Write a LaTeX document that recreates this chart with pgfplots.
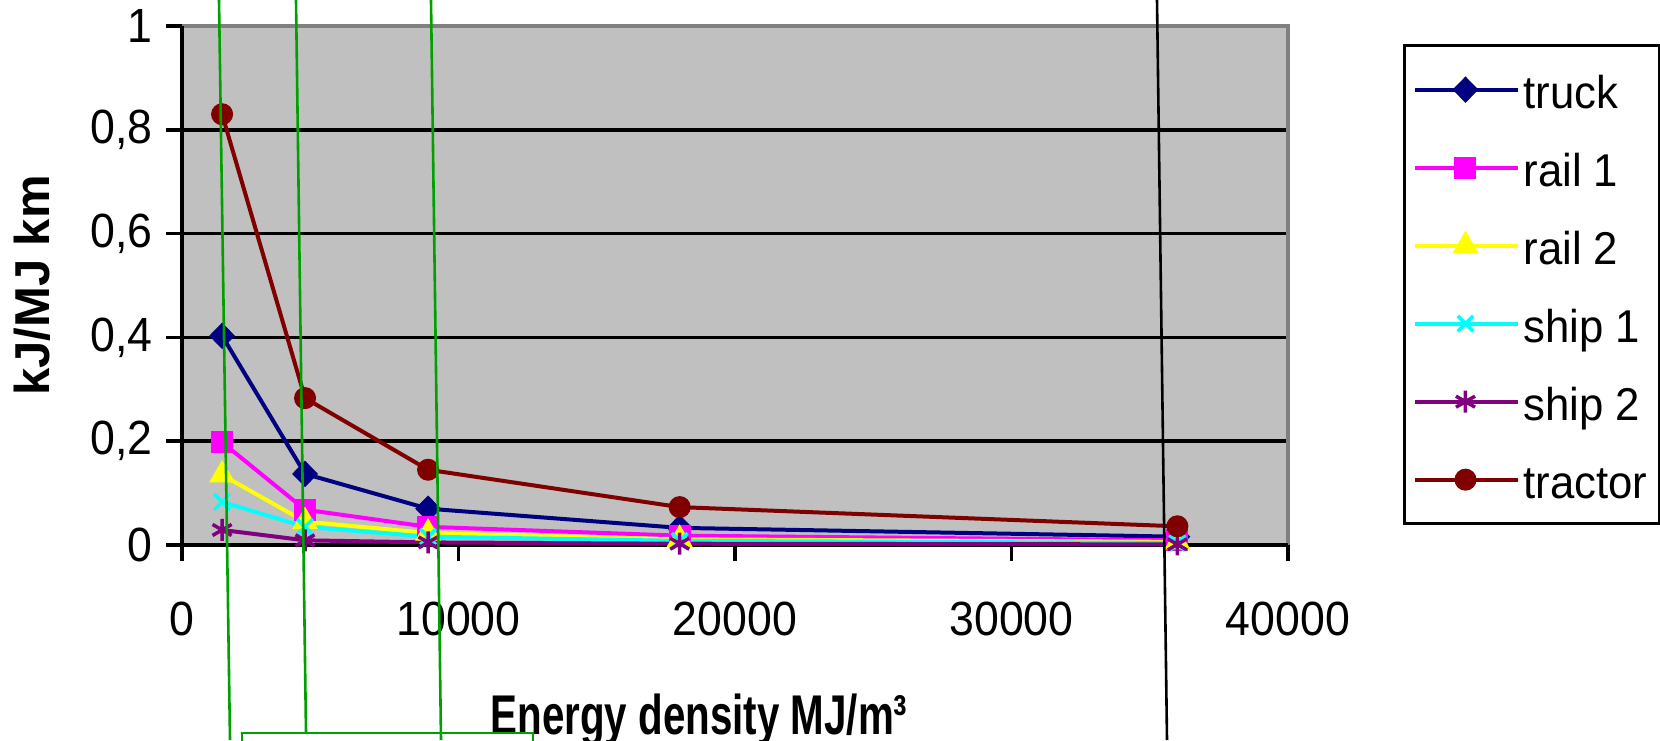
\documentclass[border=0pt]{standalone}
\usepackage{fontspec}
\setmainfont{Liberation Sans}
\newfontfamily\tickf{Liberation Sans}[FakeStretch=0.93]
\newfontfamily\legf{Liberation Sans}[FakeStretch=0.95]
\newfontfamily\titf{Liberation Sans}[FakeStretch=0.72]
\usepackage{pgfplots}
\pgfplotsset{compat=1.18}
\definecolor{bgray}{RGB}{192,192,192}
\definecolor{dgray}{RGB}{128,128,128}
\definecolor{truckc}{RGB}{0,0,128}
\definecolor{rail1c}{RGB}{255,0,255}
\definecolor{rail2c}{RGB}{255,255,0}
\definecolor{ship1c}{RGB}{0,255,255}
\definecolor{ship2c}{RGB}{128,0,128}
\definecolor{tractc}{RGB}{128,0,0}
\definecolor{anngreen}{RGB}{0,160,0}
\begin{document}
\begin{tikzpicture}[x=1pt,y=1pt]
\begin{axis}[
  at={(182pt,195pt)}, anchor=south west,
  scale only axis, width=1106pt, height=519pt,
  xmin=0, xmax=40000, ymin=0, ymax=1,
  clip=false,
  axis line style={draw=none},
  axis background/.style={fill=bgray},
  xtick={0,10000,20000,30000,40000},
  ytick={0,0.2,0.4,0.6,0.8,1},
  tick align=outside, major tick length=16pt,
  xtick pos=left, ytick pos=left,
  major tick style={black, line width=3.5pt},
  ymajorgrids, major grid style={black, line width=3.5pt},
  scaled x ticks=false,
  xticklabel style={/pgf/number format/1000 sep={}, yshift=-37pt},
  yticklabel style={/pgf/number format/use comma, xshift=-10pt},
  /pgf/number format/assume math mode=true,
  tick label style={font=\tickf\fontsize{48}{56}\selectfont},
  ylabel={kJ/MJ km},
  ylabel style={font=\bfseries\fontsize{49}{56}\selectfont, at={(axis description cs:-0.1356,0.5)}, anchor=center},
  xlabel={Energy density MJ/m³},
  xlabel style={font=\titf\bfseries\fontsize{56}{64}\selectfont, at={(axis description cs:0.4675,-0.366)}, anchor=base},
  legend style={at={(1.104,0.965)}, anchor=north west, draw=black, line width=3pt, fill=white,
    inner xsep=9pt, inner ysep=5pt, row sep=0pt,
    font=\legf\fontsize{46}{54}\selectfont,
    nodes={inner sep=3pt, text height=55pt, text depth=17pt, anchor=west}},
  legend cell align=left,
  legend image code/.code={\path (0pt,0pt) -- (103pt,0pt);\draw[mark repeat=2,mark phase=2] plot coordinates {(0pt,0pt) (50pt,0pt) (100pt,0pt)};},
]
\draw[dgray, line width=4pt] (rel axis cs:0,1) -- (rel axis cs:1,1) -- (rel axis cs:1,0);
\draw[black, line width=3.8pt] (rel axis cs:0,1) -- (rel axis cs:0,0) -- (rel axis cs:1,0);

\addplot[truckc, line width=4pt, mark=diamond*, mark size=12.5pt, mark options={solid, line width=1pt, xscale=1.3}]
  coordinates {(1450,0.403) (4450,0.137) (8900,0.070) (18000,0.033) (36000,0.016)};
\addlegendentry{truck}
\addplot[rail1c, line width=4pt, mark=square*, mark size=10.5pt, mark options={solid, line width=1pt}]
  coordinates {(1450,0.198) (4450,0.068) (8900,0.035) (18000,0.018) (36000,0.009)};
\addlegendentry{rail 1}
\addplot[rail2c, line width=4pt, mark=triangle*, mark size=14pt, mark options={solid, line width=1pt}]
  coordinates {(1450,0.135) (4450,0.045) (8900,0.023) (18000,0.011) (36000,0.006)};
\addlegendentry{rail 2}
\addplot[ship1c, line width=4pt, mark=x, mark size=11pt, mark options={solid, line width=3.5pt}]
  coordinates {(1450,0.083) (4450,0.035) (8900,0.016) (18000,0.008) (36000,0.004)};
\addlegendentry{ship 1}
\addplot[ship2c, line width=4pt, mark=asterisk, mark size=11pt, mark options={solid, line width=3.5pt}]
  coordinates {(1450,0.029) (4450,0.009) (8900,0.005) (18000,0.0025) (36000,0.0012)};
\addlegendentry{ship 2}
\addplot[tractc, line width=4pt, mark=*, mark size=10.5pt, mark options={solid, line width=1pt}]
  coordinates {(1450,0.830) (4450,0.283) (8900,0.145) (18000,0.073) (36000,0.036)};
\addlegendentry{tractor}
\end{axis}
\draw[anngreen, line width=2.6pt] (219,740) -- (230,0);
\draw[anngreen, line width=2.6pt] (296,740) -- (306,7);
\draw[anngreen, line width=2.6pt] (431,740) -- (441,0);
\draw[anngreen, line width=2.6pt] (242,-20) -- (242,7) -- (533,7) -- (533,-20);
\draw[black, line width=2.6pt] (1157,740) -- (1167,0);
\pgfresetboundingbox
\path[use as bounding box] (0,0) rectangle (1660,740);
\end{tikzpicture}
\end{document}
